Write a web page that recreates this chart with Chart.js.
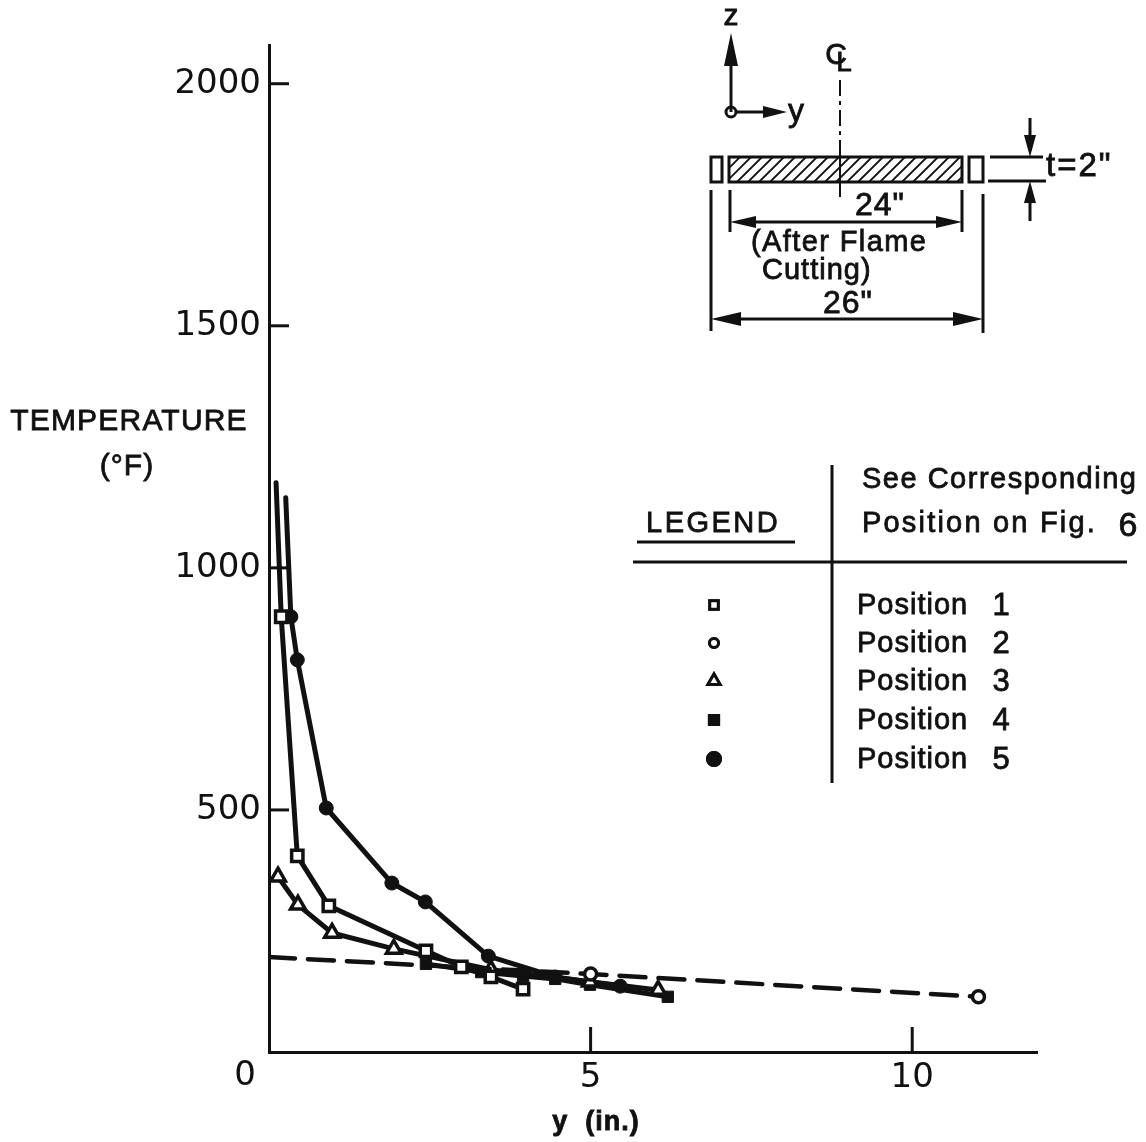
<!DOCTYPE html>
<html>
<head>
<meta charset="utf-8">
<title>Temperature vs y</title>
<script src="https://cdn.jsdelivr.net/npm/chart.js@4"></script>
<style>
  html, body { margin: 0; padding: 0; background: #fff; }
  canvas { display: block; }
</style>
</head>
<body>
<canvas id="chart" width="1146" height="1142"></canvas>
<script>
// values: y in inches, temperature in deg F
const pos1X = [0.11, 0.19, 0.44, 0.93, 2.44, 2.99, 3.45, 3.95];
const pos1Y = [1176, 899, 405, 302, 209, 176, 155, 130];
const pos2X = [0, 5.0, 11.03];
const pos2Y = [196, 161, 114];
const pos3X = [0.14, 0.45, 0.98, 1.94, 3.45, 4.99, 6.05];
const pos3Y = [362, 304, 246, 213, 170, 145, 128];
const pos4X = [2.44, 3.30, 3.95, 4.45, 4.99, 6.20];
const pos4Y = [182, 165, 157, 151, 139, 114];
const pos5X = [0.26, 0.34, 0.44, 0.89, 1.91, 2.43, 3.41, 4.45, 5.46];
const pos5Y = [1145, 899, 810, 504, 349, 310, 198, 155, 136];

const xTicks = [0, 5, 10];
const yTicks = [0, 500, 1000, 1500, 2000];
const xMax = 11.94;
const yMax = 2080;

const INK = '#111';
const FONT = '"Liberation Sans", sans-serif';
const TICK_FONT = '"DejaVu Sans", sans-serif';

const toPoints = (xs, ys) => xs.map((x, i) => ({ x: x, y: ys[i] }));

// lines 1, 2 and 5 start without a marker
const skipFirst = r => ctx => ctx.dataIndex === 0 ? 0 : r;

const datasets = [
  { label: 'Position 1', data: toPoints(pos1X, pos1Y), pointStyle: 'rect', pointBackgroundColor: '#fff',
    pointRadius: skipFirst(8), pointBorderWidth: 3.5 },
  { label: 'Position 2', data: toPoints(pos2X, pos2Y), pointStyle: 'circle', pointBackgroundColor: '#fff',
    pointRadius: skipFirst(6), pointBorderWidth: 3.5, borderDash: [26, 13], borderWidth: 4.5 },
  { label: 'Position 3', data: toPoints(pos3X, pos3Y), pointStyle: 'triangle', pointBackgroundColor: '#fff',
    pointRadius: 8.5, pointBorderWidth: 3.5 },
  { label: 'Position 4', data: toPoints(pos4X, pos4Y), pointStyle: 'rect', pointBackgroundColor: INK,
    pointRadius: 8, pointBorderWidth: 1 },
  { label: 'Position 5', data: toPoints(pos5X, pos5Y), pointStyle: 'circle', pointBackgroundColor: INK,
    pointRadius: skipFirst(7), pointBorderWidth: 1 }
].map(d => Object.assign({ borderColor: INK, pointBorderColor: INK, borderWidth: 5, borderCapStyle: 'round', tension: 0, showLine: true }, d));

function line(c, x1, y1, x2, y2, w) {
  c.lineWidth = w || 3;
  c.beginPath();
  c.moveTo(x1, y1);
  c.lineTo(x2, y2);
  c.stroke();
}

// arrow head with the tip at (x, y), dx/dy pointing along the shaft
function head(c, x, y, dx, dy, len, half) {
  c.beginPath();
  c.moveTo(x, y);
  c.lineTo(x - dx * len - dy * half, y - dy * len - dx * half);
  c.lineTo(x - dx * len + dy * half, y - dy * len + dx * half);
  c.closePath();
  c.fill();
}

// lettering in the source is heavier than the font, so add a thin outline
function text(c, s, x, y, size, align, spacing, weight) {
  c.font = (weight || 'normal') + ' ' + size + 'px ' + FONT;
  c.textAlign = align || 'left';
  c.textBaseline = 'middle';
  c.letterSpacing = (spacing || 0) + 'px';
  c.fillText(s, x, y + 2);
  c.lineWidth = 0.8;
  c.strokeText(s, x, y + 2);
  c.letterSpacing = '0px';
}

function drawInset(c) {
  // coordinate axes
  line(c, 731, 112, 731, 60);
  head(c, 731, 33, 0, -1, 33, 7);
  line(c, 736, 112, 770, 112);
  head(c, 787, 112, 1, 0, 24, 6);
  c.lineWidth = 3;
  c.beginPath();
  c.arc(731, 112, 5, 0, Math.PI * 2);
  c.stroke();
  text(c, 'z', 731, 15, 30, 'center');
  text(c, 'y', 796, 110, 32, 'center');
  text(c, 'C', 836, 54, 30, 'center');
  text(c, 'L', 844, 61, 28, 'center');

  // centre line
  c.setLineDash([16, 5, 4, 5]);
  line(c, 840, 80, 840, 197, 2);
  c.setLineDash([]);

  // plate section with hatching
  c.lineWidth = 3;
  c.strokeRect(729, 157, 233, 25);
  c.strokeRect(711, 157, 11, 25);
  c.strokeRect(969, 157, 14, 25);
  c.save();
  c.beginPath();
  c.rect(729, 157, 233, 25);
  c.clip();
  for (let x = 729; x < 1000; x += 11) line(c, x - 25, 182, x, 157, 1.8);
  c.restore();
  line(c, 840, 150, 840, 197, 2);

  // thickness
  line(c, 990, 157, 1043, 157);
  line(c, 988, 181, 1046, 181);
  line(c, 1030, 118, 1030, 140);
  head(c, 1030, 157, 0, 1, 22, 6);
  line(c, 1030, 198, 1030, 221);
  head(c, 1030, 181, 0, -1, 22, 6);
  text(c, 't=2"', 1046, 165, 33, 'left', 2);

  // width dimensions
  line(c, 730, 190, 730, 232);
  line(c, 962, 190, 962, 232);
  line(c, 750, 222, 940, 222);
  head(c, 730, 222, -1, 0, 26, 6);
  head(c, 962, 222, 1, 0, 26, 6);
  text(c, '24"', 880, 204, 32, 'center', 1);
  text(c, '(After Flame', 751, 241, 29, 'left', 1.4);
  text(c, 'Cutting)', 762, 269, 29, 'left', 1);
  text(c, '26"', 848, 302, 32, 'center', 1);
  line(c, 711, 190, 711, 331);
  line(c, 983, 194, 983, 333);
  line(c, 730, 319, 965, 319);
  head(c, 711, 319, -1, 0, 30, 7);
  head(c, 983, 319, 1, 0, 30, 7);
}

function drawLegend(c, chart) {
  line(c, 832, 465, 832, 783, 3);
  line(c, 633, 562, 1127, 562, 3);
  line(c, 637, 542, 795, 542, 3);
  text(c, 'LEGEND', 646, 522, 29, 'left', 2.5);
  text(c, 'See Corresponding', 862, 478, 29, 'left', 1.5);
  text(c, 'Position on Fig.', 862, 522, 29, 'left', 2.2);
  text(c, '6', 1128, 525, 34, 'center');

  const rows = [604, 642, 680, 719, 758];
  const sizes = [6, 4.5, 7, 6.5, 6.5];
  chart.data.datasets.forEach((d, i) => {
    const parts = d.label.split(' ');
    text(c, parts[0], 857, rows[i], 29, 'left', 1);
    text(c, parts[1], 1001, rows[i], 31, 'center');
    c.fillStyle = d.pointBackgroundColor;
    c.strokeStyle = INK;
    c.lineWidth = 3;
    Chart.helpers.drawPoint(c, { pointStyle: d.pointStyle, rotation: 0, radius: sizes[i], borderWidth: 3 }, 714, rows[i] + 1);
    c.fill();
    c.stroke();
    c.fillStyle = INK;
  });
}

const annotations = {
  id: 'annotations',
  afterDraw(chart) {
    const c = chart.ctx;
    const sx = chart.scales.x;
    const sy = chart.scales.y;
    c.save();
    c.strokeStyle = INK;
    c.fillStyle = INK;

    // tick marks sit on the inside of the axes
    xTicks.slice(1).forEach(v => line(c, sx.getPixelForValue(v), sy.bottom, sx.getPixelForValue(v), sy.bottom - 25, 3));
    yTicks.slice(1).forEach(v => line(c, sx.left, sy.getPixelForValue(v), sx.left + 20, sy.getPixelForValue(v), 3));

    c.font = '34px ' + TICK_FONT;
    c.textAlign = 'center';
    c.textBaseline = 'middle';
    c.fillText('0', sx.getPixelForValue(0) - 24, sy.bottom + 24);
    text(c, 'TEMPERATURE', 129, 420, 30, 'center', 1.2);
    text(c, '(°F)', 127, 465, 30, 'center', 1);
    text(c, 'y  (in.)', 596, 1121, 27, 'center', 1, 'bold');

    drawInset(c);
    drawLegend(c, chart);
    c.restore();
  }
};

new Chart(document.getElementById('chart').getContext('2d'), {
  type: 'scatter',
  data: { datasets: datasets },
  plugins: [annotations],
  options: {
    responsive: false,
    animation: false,
    layout: { padding: { top: 45, right: 109, left: 0, bottom: 0 } },
    plugins: { legend: { display: false }, tooltip: { enabled: false } },
    scales: {
      x: {
        type: 'linear',
        min: 0,
        max: xMax,
        afterBuildTicks: s => { s.ticks = xTicks.map(v => ({ value: v })); },
        afterFit: s => { s.height = 90; },
        grid: { display: false, drawTicks: false },
        border: { display: true, color: INK, width: 3 },
        ticks: {
          padding: 6,
          color: INK,
          maxRotation: 0,
          font: { family: TICK_FONT, size: 34 },
          callback: v => v === 0 ? '' : String(v)
        }
      },
      y: {
        type: 'linear',
        min: 0,
        max: yMax,
        afterBuildTicks: s => { s.ticks = yTicks.map(v => ({ value: v })); },
        afterFit: s => { s.width = 269; },
        grid: { display: false, drawTicks: false },
        border: { display: true, color: INK, width: 3 },
        ticks: {
          padding: 8,
          color: INK,
          font: { family: TICK_FONT, size: 34 },
          callback: v => v === 0 ? '' : String(v)
        }
      }
    }
  }
});
</script>
</body>
</html>
